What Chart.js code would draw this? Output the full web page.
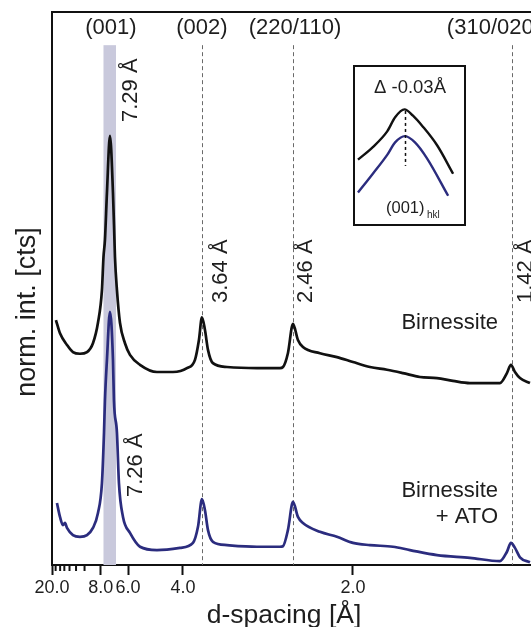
<!DOCTYPE html>
<html>
<head>
<meta charset="utf-8">
<script src="https://cdn.jsdelivr.net/npm/chart.js@4.4.0/dist/chart.umd.min.js"></script>
<style>
  html, body { margin: 0; padding: 0; background: #fff; overflow: hidden; }
  #wrap { position: relative; width: 531px; height: 627px; }
  #main { position: absolute; left: 0; top: 0; }
  #insetBox { position: absolute; left: 353px; top: 65px; width: 113px; height: 161px;
              box-sizing: border-box; border: 2px solid #111; background: #fff; }
  #inset { display: block; }
</style>
</head>
<body>
<div id="wrap">
  <canvas id="main" width="531" height="627"></canvas>
  <div id="insetBox"><canvas id="inset" width="109" height="157"></canvas></div>
</div>
<script>
// 2-theta (deg, Cu K-alpha) and normalised intensity
var twoThetaBirn = [4.95, 5.50, 6.45, 7.26, 8.21, 9.17, 9.98, 10.66, 11.20, 11.41, 11.61, 11.88, 12.29,
    12.70, 12.90, 12.97, 13.24, 13.65, 14.33, 15.01, 16.37, 18.68, 20.85, 22.75, 23.84, 24.38, 24.79,
    25.20, 25.61, 26.28, 28.19, 32.26, 35.39, 35.80, 36.47, 37.16, 37.83, 38.51, 40.82, 43.13, 45.31,
    47.62, 49.93, 52.10, 54.41, 56.72, 58.89, 61.20, 65.28, 66.23, 66.77, 67.32, 68.00, 69.36];
var intBirn = [44.3, 41.9, 39.8, 38.5, 38.2, 38.5, 40.1, 43.8, 49.7, 55.7, 58.8, 67.3, 77.6,
    67.3, 58.8, 55.7, 49.7, 43.8, 40.1, 38.0, 36.2, 34.9, 34.9, 35.6, 37.1, 40.7, 44.8,
    42.5, 38.9, 36.5, 35.8, 35.6, 35.6, 35.8, 38.3, 43.6, 40.7, 39.4, 38.3, 37.6, 36.7,
    35.8, 35.3, 34.7, 34.0, 33.8, 33.3, 32.9, 32.9, 34.7, 36.2, 34.9, 33.8, 32.9];

var twoThetaAto = [5.09, 5.50, 5.90, 6.18, 6.45, 7.26, 8.21, 9.17, 9.98, 10.66, 11.20, 11.48, 11.61,
    11.88, 12.29, 12.70, 12.83, 13.24, 13.51, 14.06, 15.01, 16.37, 18.68, 21.80, 23.57, 24.25, 24.79,
    25.20, 25.61, 26.28, 28.19, 32.26, 35.39, 35.80, 36.47, 37.16, 37.83, 38.51, 40.82, 43.13, 45.31,
    47.62, 50.74, 53.05, 56.72, 61.20, 65.28, 66.23, 66.77, 67.32, 68.00, 69.36];
var intAto = [11.2, 8.7, 7.2, 7.6, 6.7, 5.4, 5.1, 5.4, 6.7, 9.4, 14.8, 23.9, 29.8,
    37.1, 45.8, 37.1, 29.8, 23.9, 14.8, 8.7, 5.8, 3.3, 2.7, 3.1, 4.0, 6.9, 11.9,
    9.9, 6.3, 4.2, 3.6, 3.3, 3.3, 3.4, 6.3, 11.4, 8.7, 7.6, 6.0, 5.1, 4.0,
    3.6, 3.3, 2.7, 1.8, 1.3, 0.7, 2.4, 4.0, 3.1, 1.4, 0.5];

// inset: (001) peak close-up, relative position / relative intensity
var insetX = [-0.94, -0.64, -0.35, -0.19, 0.0, 0.17, 0.37, 0.66, 0.98];
var insetBirn = [0.41, 0.49, 0.59, 0.68, 0.73, 0.69, 0.62, 0.50, 0.32];
var insetXAto = [-0.94, -0.64, -0.35, -0.19, 0.01, 0.21, 0.45, 0.88];
var insetAto = [0.20, 0.32, 0.44, 0.52, 0.56, 0.52, 0.42, 0.18];

// axis ticks in d-spacing
var tickD = [20, 8, 6, 4, 2];
var tickLabels = ['20.0', '8.0', '6.0', '4.0', '2.0'];
var minorTickD = [18, 16, 14.5, 13, 11.5, 10];

// reflections
var peakPos = [12.29, 24.79, 37.16, 66.91];
var hklLabels = ['(001)', '(002)', '(220/110)', '(310/020)'];
var dLabels = ['7.29 Å', '3.64 Å', '2.46 Å', '1.42 Å'];
var dLabelAto = '7.26 Å';
var band001 = [11.41, 13.11];

var FONT = '"Liberation Sans", Arial, Helvetica, sans-serif';
var BLUE = '#2b2c7e';

function twoTheta(d) {
    return 2 * Math.asin(1.5406 / (2 * d)) * 180 / Math.PI;
}

function pts(xs, ys) {
    return xs.map(function (x, i) { return { x: x, y: ys[i] }; });
}

var decorPlugin = {
    id: 'decor',
    beforeDatasetsDraw: function (chart) {
        var ctx = chart.ctx, xs = chart.scales.x, ys = chart.scales.y;
        var a = chart.chartArea;
        var top = ys.getPixelForValue(94);
        ctx.save();
        // grey band on (001)
        var b0 = xs.getPixelForValue(band001[0]), b1 = xs.getPixelForValue(band001[1]);
        ctx.fillStyle = '#c9c9dc';
        ctx.fillRect(b0, top, b1 - b0, a.bottom - top);
        // dashed reflection lines
        ctx.strokeStyle = '#6a6a6a';
        ctx.lineWidth = 1;
        ctx.setLineDash([4, 3]);
        for (var i = 1; i < peakPos.length; i++) {
            var px = Math.round(xs.getPixelForValue(peakPos[i])) + 0.5;
            ctx.beginPath();
            ctx.moveTo(px, top);
            ctx.lineTo(px, a.bottom);
            ctx.stroke();
        }
        ctx.restore();
    },
    afterDraw: function (chart) {
        var ctx = chart.ctx, xs = chart.scales.x;
        var a = chart.chartArea;
        ctx.save();
        // top frame line
        ctx.strokeStyle = '#111';
        ctx.lineWidth = 2;
        ctx.beginPath();
        ctx.moveTo(a.left - 1, a.top);
        ctx.lineTo(a.right, a.top);
        ctx.stroke();
        // minor ticks
        minorTickD.forEach(function (d) {
            var px = xs.getPixelForValue(twoTheta(d));
            ctx.beginPath();
            ctx.moveTo(px, a.bottom);
            ctx.lineTo(px, a.bottom + 6);
            ctx.stroke();
        });

        ctx.fillStyle = '#1e1e1e';
        ctx.textBaseline = 'alphabetic';

        // hkl labels along the top
        ctx.font = '22px ' + FONT;
        ctx.textAlign = 'center';
        var hklDx = [1, 0, 2, -18];
        hklLabels.forEach(function (t, i) {
            ctx.fillText(t, xs.getPixelForValue(peakPos[i]) + hklDx[i], 33.5);
        });

        // rotated d-spacing labels
        var dDx = [27, 25, 19, 20];
        var dY = [122, 303, 303, 303];
        dLabels.forEach(function (t, i) {
            rotText(ctx, t, xs.getPixelForValue(peakPos[i]) + dDx[i], dY[i]);
        });
        rotText(ctx, dLabelAto, xs.getPixelForValue(peakPos[0]) + 32, 497);

        // sample names
        ctx.font = '22px ' + FONT;
        ctx.textAlign = 'right';
        ctx.fillText('Birnessite', 498, 329);
        ctx.fillText('Birnessite', 498, 497);
        ctx.fillText('+ ATO', 498, 523);

        // axis titles
        ctx.font = '26.5px ' + FONT;
        ctx.textAlign = 'center';
        ctx.fillText('d-spacing [Å]', 284, 623);
        ctx.save();
        ctx.translate(35, 312);
        ctx.rotate(-Math.PI / 2);
        ctx.font = '27px ' + FONT;
        ctx.fillText('norm. int. [cts]', 0, 0);
        ctx.restore();

        ctx.restore();
    }
};

function rotText(ctx, t, x, y) {
    ctx.save();
    ctx.translate(x, y);
    ctx.rotate(-Math.PI / 2);
    ctx.font = '22px ' + FONT;
    ctx.textAlign = 'left';
    ctx.textBaseline = 'alphabetic';
    ctx.fillText(t, 0, 0);
    ctx.restore();
}

new Chart(document.getElementById('main'), {
    type: 'line',
    data: {
        datasets: [
            {
                label: 'Birnessite',
                data: pts(twoThetaBirn, intBirn),
                borderColor: '#111',
                borderWidth: 2.7,
                pointRadius: 0,
                cubicInterpolationMode: 'monotone',
                fill: false
            },
            {
                label: 'Birnessite + ATO',
                data: pts(twoThetaAto, intAto),
                borderColor: BLUE,
                borderWidth: 2.7,
                pointRadius: 0,
                cubicInterpolationMode: 'monotone',
                fill: false
            }
        ]
    },
    options: {
        responsive: false,
        animation: false,
        layout: { padding: { top: 12, right: 0, left: 0, bottom: 0 } },
        plugins: {
            legend: { display: false },
            tooltip: { enabled: false }
        },
        scales: {
            x: {
                type: 'linear',
                min: twoTheta(20),
                max: 69.5,
                afterFit: function (s) { s.height = 62; },
                afterBuildTicks: function (s) {
                    s.ticks = tickD.map(function (d) { return { value: twoTheta(d) }; });
                },
                border: { display: true, color: '#111', width: 2 },
                grid: { display: true, drawOnChartArea: false, drawTicks: true, tickLength: 10, tickWidth: 2, tickColor: '#111' },
                ticks: {
                    autoSkip: false,
                    maxRotation: 0,
                    padding: 2,
                    color: '#1e1e1e',
                    font: { family: FONT, size: 18 },
                    callback: function (v, i) { return tickLabels[i]; }
                }
            },
            y: {
                min: 0,
                max: 100,
                afterFit: function (s) { s.width = 52; },
                border: { display: true, color: '#111', width: 2 },
                grid: { display: false },
                ticks: { display: false }
            }
        }
    },
    plugins: [decorPlugin]
});

var insetPlugin = {
    id: 'insetDecor',
    afterDraw: function (chart) {
        var ctx = chart.ctx, xs = chart.scales.x, ys = chart.scales.y;
        ctx.save();
        ctx.strokeStyle = '#111';
        ctx.lineWidth = 1.5;
        ctx.setLineDash([3, 3]);
        var px = Math.round(xs.getPixelForValue(0)) + 0.5;
        ctx.beginPath();
        ctx.moveTo(px, ys.getPixelForValue(0.72));
        ctx.lineTo(px, ys.getPixelForValue(0.37));
        ctx.stroke();
        ctx.setLineDash([]);
        ctx.fillStyle = '#1e1e1e';
        ctx.textBaseline = 'alphabetic';
        ctx.textAlign = 'center';
        ctx.font = '18.5px ' + FONT;
        ctx.fillText('Δ -0.03Å', 55, 26);
        ctx.textAlign = 'left';
        ctx.font = '16.5px ' + FONT;
        ctx.fillText('(001)', 31, 146);
        ctx.font = '10px ' + FONT;
        ctx.fillText('hkl', 72, 151);
        ctx.restore();
    }
};

new Chart(document.getElementById('inset'), {
    type: 'line',
    data: {
        datasets: [
            { data: pts(insetX, insetBirn), borderColor: '#111', borderWidth: 2.4, pointRadius: 0, cubicInterpolationMode: 'monotone' },
            { data: pts(insetXAto, insetAto), borderColor: BLUE, borderWidth: 2.4, pointRadius: 0, cubicInterpolationMode: 'monotone' }
        ]
    },
    options: {
        responsive: false,
        animation: false,
        layout: { padding: 0 },
        plugins: { legend: { display: false }, tooltip: { enabled: false } },
        scales: {
            x: { type: 'linear', min: -1.0, max: 1.2, display: false },
            y: { min: 0, max: 1, display: false }
        }
    },
    plugins: [insetPlugin]
});
</script>
</body>
</html>
